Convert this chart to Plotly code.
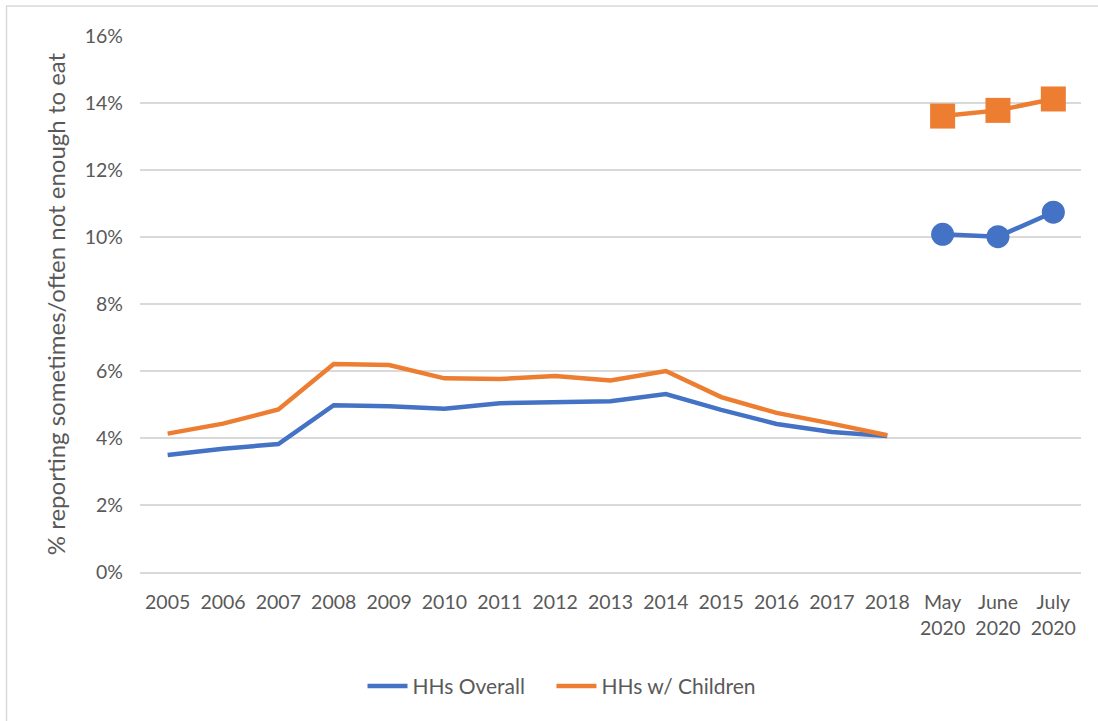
import plotly.graph_objects as go

years = [str(y) for y in range(2005, 2019)]
months_2020 = ["May<br>2020", "June<br>2020", "July<br>2020"]
categories = years + months_2020

overall_annual = [3.49, 3.68, 3.82, 4.98, 4.95, 4.87, 5.04, 5.07, 5.10, 5.31, 4.84, 4.42, 4.18, 4.06]
children_annual = [4.13, 4.43, 4.85, 6.21, 6.18, 5.78, 5.76, 5.85, 5.72, 6.00, 5.22, 4.75, 4.43, 4.08]
overall_2020 = [10.08, 10.01, 10.74]
children_2020 = [13.61, 13.78, 14.12]

BLUE = "#4472C4"
ORANGE = "#ED7D31"
TXT = "#595959"
FONT = "Lato, 'Open Sans', sans-serif"
NB = "\u00a0"

fig = go.Figure()
fig.add_trace(go.Scatter(x=years, y=overall_annual, mode="lines", name="HHs Overall" + NB * 4,
                         line=dict(color=BLUE, width=4.5)))
fig.add_trace(go.Scatter(x=years, y=children_annual, mode="lines", name="HHs w/ Children",
                         line=dict(color=ORANGE, width=4.5)))
fig.add_trace(go.Scatter(x=months_2020, y=overall_2020, mode="lines+markers", showlegend=False,
                         line=dict(color=BLUE, width=4.5),
                         marker=dict(symbol="circle", size=23, color=BLUE)))
fig.add_trace(go.Scatter(x=months_2020, y=children_2020, mode="lines+markers", showlegend=False,
                         line=dict(color=ORANGE, width=4.5),
                         marker=dict(symbol="square", size=25, color=ORANGE)))

fig.update_layout(
    width=1098, height=721,
    margin=dict(l=140, r=17, t=36, b=149),
    paper_bgcolor="white", plot_bgcolor="white",
    font=dict(family=FONT, color=TXT, size=19),
    showlegend=True,
    legend=dict(orientation="h", x=(562 - 140) / 941, xanchor="center", y=-0.175, yanchor="top",
                font=dict(size=21, color=TXT), itemwidth=40),
    xaxis=dict(type="category", categoryorder="array", categoryarray=categories,
               showgrid=False, showline=True, linecolor="#D9D9D9", linewidth=1.5,
               ticks="", tickfont=dict(size=19.5, color=TXT), range=[-0.5, 16.5],
               ticklabelstandoff=12),
    yaxis=dict(range=[0, 16], dtick=2, ticksuffix="%", showgrid=True, gridcolor="#D9D9D9",
               gridwidth=1.5, zeroline=False, showline=False, ticks="",
               tickfont=dict(size=19.5, color=TXT), ticklabelstandoff=16,
               title=dict(text="% reporting sometimes/often not enough to eat",
                          font=dict(size=24, color=TXT), standoff=12)),
    shapes=[
        dict(type="line", xref="paper", yref="paper", x0=(6 - 140) / 941, x1=1.02,
             y0=(572 - 6) / 536, y1=(572 - 6) / 536, line=dict(color="#D9D9D9", width=1.5)),
        dict(type="line", xref="paper", yref="paper", x0=(6.5 - 140) / 941, x1=(6.5 - 140) / 941,
             y0=(572 - 6) / 536, y1=-0.3, line=dict(color="#D9D9D9", width=1.5)),
    ],
)

fig.write_html("out.html")
